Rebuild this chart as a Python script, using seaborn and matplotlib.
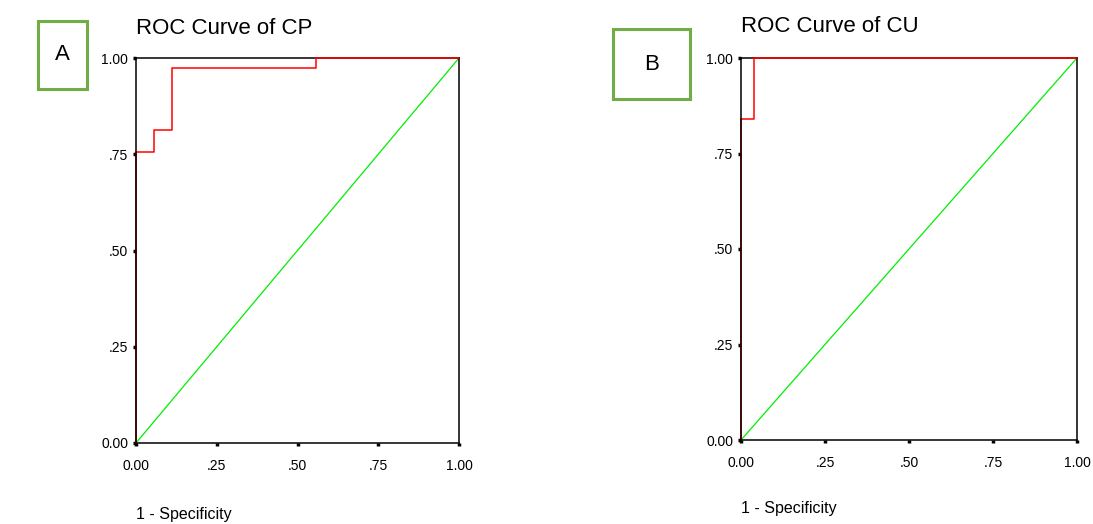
import matplotlib
matplotlib.use("Agg")
import matplotlib.pyplot as plt
import pandas as pd
import seaborn as sns
from matplotlib.patches import Rectangle

# ROC 曲线数据 (1 - Specificity, Sensitivity)
cp_fpr = [0.0, 0.0, 0.056, 0.056, 0.111, 0.111, 0.556, 0.556, 1.0]
cp_tpr = [0.0, 0.757, 0.757, 0.813, 0.813, 0.975, 0.975, 1.0, 1.0]
cu_fpr = [0.0, 0.0, 0.04, 0.04, 1.0]
cu_tpr = [0.0, 0.84, 0.84, 1.0, 1.0]
ref_line = [0.0, 1.0]

titles = ["ROC Curve of CP", "ROC Curve of CU"]
panel_labels = ["A", "B"]
tick_vals = [0.0, 0.25, 0.5, 0.75, 1.0]
tick_text = ["0.00", ".25", ".50", ".75", "1.00"]

sns.set_style("white")
plt.rcParams['font.family'] = ['Liberation Sans', 'DejaVu Sans']
plt.rcParams['text.color'] = 'black'
plt.rcParams['xtick.color'] = 'black'
plt.rcParams['ytick.color'] = 'black'

fig = plt.figure(figsize=(10.93, 5.24), dpi=100)
W, H = 1093, 524

def px_axes(l, t, r, b):
    return fig.add_axes([l / W, 1 - b / H, (r - l) / W, (b - t) / H])

ax1 = px_axes(136, 58, 459, 443)
ax2 = px_axes(741, 58, 1077, 440)

curves = [(cp_fpr, cp_tpr), (cu_fpr, cu_tpr)]
title_pads = [17, 19]
label_pads = [24.5, 22.5]

for ax, (fpr, tpr), title, tp, lp in zip([ax1, ax2], curves, titles, title_pads, label_pads):
    roc = pd.DataFrame({"fpr": fpr, "tpr": tpr})
    diag = pd.DataFrame({"x": ref_line, "y": ref_line})
    sns.lineplot(data=diag, x="x", y="y", ax=ax, color="#00ee00", lw=0.9,
                 sort=False, estimator=None)
    sns.lineplot(data=roc, x="fpr", y="tpr", ax=ax, color="#ff0000", lw=1.1,
                 sort=False, estimator=None, clip_on=False, zorder=3)
    ax.set_xlim(0, 1)
    ax.set_ylim(0, 1)
    ax.set_xticks(tick_vals)
    ax.set_xticklabels(tick_text)
    ax.set_yticks(tick_vals)
    ax.set_yticklabels(tick_text)
    ax.tick_params(direction="out", length=2.5, width=2.5, color="black",
                   labelsize=10, labelcolor="black", bottom=True, left=True)
    ax.tick_params(axis="x", pad=9)
    ax.tick_params(axis="y", pad=3)
    for s in ax.spines.values():
        s.set_color("black")
        s.set_linewidth(1.1)
    ax.spines["left"].set_zorder(4)
    ax.set_title(title, loc="left", fontsize=16, pad=tp, color="black")
    ax.set_xlabel("1 - Specificity", loc="left", fontsize=11.5, labelpad=lp, color="black")
    ax.set_ylabel("")

# 面板标签框
boxes = [(38, 21, 87, 89), (613, 29, 690, 99)]
for (l, t, r, b), lab in zip(boxes, panel_labels):
    fig.patches.append(Rectangle((l / W, 1 - b / H), (r - l) / W, (b - t) / H,
                                 transform=fig.transFigure, fill=False,
                                 edgecolor="#70ad47", lw=2.2))
    fig.text((l + r) / 2 / W, 1 - (t + b) / 2 / H, lab, ha="center", va="center",
             fontsize=16, color="black")

plt.savefig("out.png", dpi=100)
